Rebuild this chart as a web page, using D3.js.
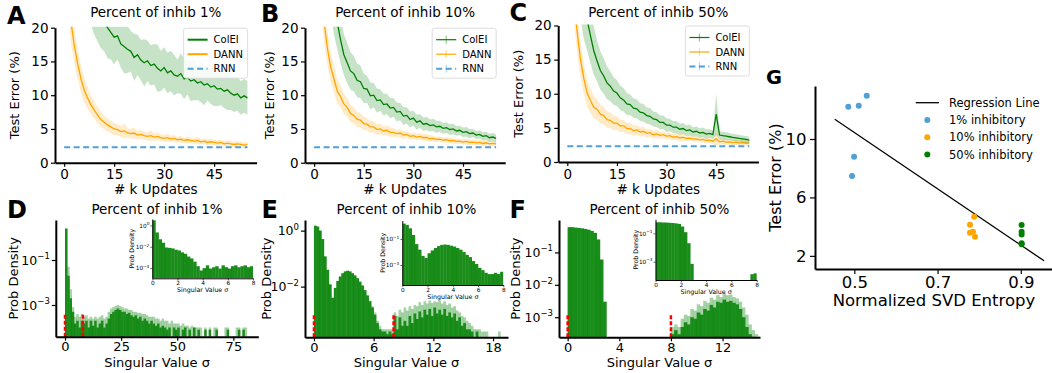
<!DOCTYPE html>
<html>
<head>
<meta charset="utf-8">
<script src="https://cdn.jsdelivr.net/npm/d3@7"></script>
<style>
body{margin:0;background:#fff}
</style>
</head>
<body>
<svg id="fig" width="1052" height="373"></svg>
<script>
// ---- data ----
const kUpdates=d3.range(0,56);           // x positions, one per k updates
const rnnSpan=[0,55];
const rnnError=[2.3,2.3,2.3];

const dann1=[38,28,21,17.5,14.8,12.5,10.8,9.6,8.6,7.8, 7.1,6.4,6.0,5.6,5.3,5.0,4.9,4.6,4.7,4.4, 4.3,4.4,4.1,4.2,4.0,3.9,4.0,3.8,3.9,3.7, 3.6,3.7,3.5,3.6,3.4,3.5,3.3,3.4,3.3,3.2, 3.3,3.1,3.2,3.0,3.1,3.0,2.9,3.0,2.8,2.9, 2.8,2.7,2.8,2.7,2.6,2.7];
const dann1Sd=[4,4,3,2.6,2.2,2.0,1.8,1.6,1.4,1.3, 1.2,1.1,1.0,1.0,0.9,0.9,0.8,0.8,1.1,0.7, 0.7,0.8,0.6,0.7,0.6,0.6,0.8,0.5,0.6,0.5, 0.5,0.6,0.5,0.5,0.4,0.5,0.4,0.5,0.4,0.4, 0.5,0.4,0.4,0.5,0.4,0.4,0.4,0.4,0.4,0.4, 0.5,0.4,0.4,0.4,0.4,0.4];
const colei1=[40,38,36,34,32,30,28,27,25.5,24, 23,22,21,20,19.3,18.6,18.8,17.6,17.2,16.8, 16.5,15.6,16.0,15.2,14.8,15.1,14.4,14.6,14.0,13.6, 14.1,13.3,13.6,13.0,12.8,13.2,12.4,12.6,12.1,12.3, 11.8,12.0,11.5,11.7,11.2,11.4,10.9,11.0,10.6,10.8, 10.3,10.0,10.2,9.6,9.9,9.6];
const colei1Sd=[5,5,5,5,5,5,5,5,5,5, 5,5,4.5,4.5,4,4,3.5,3.5,4,3.5, 3,3.5,3,3,3.5,3,3,3,3.5,3, 3,3,3,3,2.5,3,3,2.5,3,3, 2.5,3,3,2.5,2.5,3,2.5,2.5,2.5,3, 2.5,2.5,2.5,2.5,2.5,2.5];

const dann10=[45,34,26,21,17,14.2,12.4,10.6,9.8,8.7, 8.2,7.3,7.0,6.4,6.3,5.8,5.7,5.3,5.3,4.9, 5.0,4.7,4.8,4.5,4.5,4.3,4.4,4.1,4.2,3.9, 4.0,3.8,3.9,3.7,3.75,3.55,3.6,3.45,3.5,3.35, 3.4,3.25,3.3,3.15,3.2,3.05,3.15,3.0,3.05,2.95, 3.0,2.85,2.95,2.8,2.85,2.8];
const dann10Sd=[4,4,3.5,3,2.5,2.2,2,1.8,1.6,1.5, 1.4,1.3,1.2,1.1,1.1,1.0,0.9,0.9,0.8,0.8, 0.8,0.7,0.7,0.7,0.6,0.6,0.6,0.6,0.5,0.5, 0.5,0.5,0.5,0.5,0.5,0.5,0.4,0.4,0.4,0.4, 0.4,0.4,0.4,0.4,0.4,0.4,0.4,0.4,0.4,0.4, 0.4,0.4,0.4,0.4,0.4,0.4];
const colei10=[60,50,42,36,31,27,23.5,20.8,18.2,16.0, 14.8,13.6,13.2,12.2,12.0,11.0,10.9,9.9,10.0,9.2, 9.3,8.6,8.7,8.1,8.2,7.5,7.6,6.9,7.0,6.4, 6.6,6.0,6.2,5.7,5.8,5.5,5.6,5.3,5.4,5.1, 5.2,4.9,5.0,4.7,4.8,4.5,4.6,4.3,4.4,4.1, 4.2,3.9,4.0,3.7,3.8,3.6];
const colei10Sd=[6,6,6,6,5,5,4.5,4,3.5,3, 3,2.8,2.6,2.5,2.4,2.2,2,2,1.8,1.8, 1.6,1.6,1.5,1.5,1.4,1.4,1.3,1.3,1.2,1.2, 1.1,1.1,1.0,1.0,1.0,0.9,0.9,0.9,0.8,0.8, 0.8,0.8,0.8,0.7,0.7,0.7,0.7,0.7,0.6,0.6, 0.6,0.6,0.6,0.6,0.6,0.6];

const dann50=[45,33,24,19,15,12.2,10.1,9.0,8.0,7.7, 7.0,6.8,6.2,6.1,5.7,5.7,5.3,5.3,4.9,4.9, 4.6,4.7,4.4,4.5,4.2,4.3,4.0,4.1,3.9,4.0, 3.8,3.85,3.65,3.7,3.55,3.6,3.45,3.5,3.35,3.4, 3.25,3.3,3.15,3.2,3.05,3.4,2.95,3.05,2.9,2.95, 2.85,2.9,2.8,2.85,2.75,2.8];
const dann50Sd=[4,4,3.5,3,2.5,2.2,2,1.8,1.6,1.5, 1.4,1.3,1.2,1.1,1.1,1.0,0.9,0.9,0.8,0.8, 0.8,0.7,0.7,0.7,0.6,0.6,0.6,0.6,0.5,0.5, 0.5,0.5,0.5,0.5,0.5,0.5,0.4,0.4,0.4,0.4, 0.4,0.4,0.4,0.4,0.4,1.0,0.4,0.4,0.4,0.4, 0.4,0.4,0.4,0.4,0.4,0.4];
const colei50=[60,48,38,31,26,23,20.8,18.5,16.3,14.8, 13.4,12.6,11.6,11.1,10.4,10.1,9.4,9.1,8.5,8.4, 7.9,7.8,7.3,7.2,6.8,6.7,6.3,6.2,5.8,5.8, 5.4,5.4,5.1,5.1,4.8,4.9,4.6,4.7,4.4,4.5, 4.25,4.35,4.1,4.2,4.0,7.0,3.95,3.85,3.8,3.7, 3.6,3.55,3.45,3.4,3.3,3.2];
const colei50Sd=[6,6,6,6,5,5,4.5,4,3.5,3, 2.8,2.6,2.4,2.2,2,1.9,1.8,1.7,1.6,1.5, 1.4,1.4,1.3,1.3,1.2,1.2,1.1,1.1,1.0,1.0, 1.0,0.9,0.9,0.9,0.8,0.8,0.8,0.8,0.7,0.7, 0.7,0.7,0.7,0.6,0.6,3.0,0.6,0.6,0.6,0.5, 0.5,0.5,0.5,0.5,0.5,0.5];

// singular value spectra (bin start 0)
const dBinWidth=1, eBinWidth=0.25, fBinWidth=0.25, insetBinWidth=0.25;
const dDark=[2.5,0.02,0.002,0.0005,1.5e-4,2e-4,1e-4,2e-4,1.5e-4,2e-4, 1e-4,2e-4,1.2e-4,2e-4,1e-4,1.5e-4,2e-4,1e-4,1.5e-4,2.5e-4, 4e-4,5e-4,6e-4,7e-4,6e-4,5e-4,5e-4,4e-4,4.5e-4,3.5e-4, 3e-4,3.5e-4,2.5e-4,3e-4,2e-4,2.5e-4,2e-4,1.5e-4,2e-4,1.5e-4, 1.2e-4,1.5e-4,1e-4,1.2e-4,1e-4,8e-5,1e-4,0,1e-4,8e-5, 1e-4,0,8e-5,1e-4,0,8e-5,0,1e-4,0,8e-5, 0,0,8e-5,0,8e-5,0,0,8e-5,0,0, 0,0,8e-5,0,0,0,0,8e-5,0,8e-5, 0,0];
const dLight=[2.5,0.05,0.005,0.0008,3e-4,4e-4,3e-4,4e-4,3e-4,3.5e-4, 2.5e-4,3e-4,2.5e-4,3e-4,2.5e-4,3e-4,3.5e-4,2.5e-4,3e-4,5e-4, 7e-4,8e-4,9e-4,1e-3,9e-4,8e-4,7e-4,7e-4,6e-4,6e-4, 5e-4,5e-4,4.5e-4,4.5e-4,4e-4,4e-4,3.5e-4,3e-4,3e-4,3e-4, 2.5e-4,2.5e-4,2e-4,2.5e-4,2e-4,2e-4,1.5e-4,2e-4,1.5e-4,1.5e-4, 1.5e-4,1.2e-4,1.5e-4,1.2e-4,1.2e-4,1e-4,1.2e-4,1e-4,1e-4,1e-4, 1e-4,0,1e-4,0,1e-4,0,1e-4,1e-4,0,0, 0,1e-4,1e-4,0,0,0,1e-4,1e-4,0,1e-4, 1e-4,0];
const eDark=[1.5,1.4,1.0,0.5,0.12,0.04,0.012,0.004, 0.009,0.016,0.023,0.03,0.035,0.037,0.035,0.03, 0.025,0.02,0.015,0.011,0.0075,0.0048,0.003,0.0018, 0.001,0.0005,0.0003,0.00025,0.00025,0.0002,0.00025,0.0002, 0.0009,0.0003,0.0008,0.0004,0.0006,0.0004,0.0009,0.0005, 0.0011,0.0007,0.0013,0.0008,0.0015,0.001,0.0016,0.0009, 0.0018,0.0011,0.0015,0.001,0.0016,0.0009,0.0012,0.0008, 0.0011,0.0006,0.0008,0.0004,0.0005,0.0003,0.0003,0.00025, 0,0.00025,0,0,0,0,0,0, 0,0,0,0];
const eLight=[1.5,1.4,1.0,0.5,0.12,0.04,0.012,0.004, 0.009,0.016,0.023,0.03,0.035,0.037,0.035,0.03, 0.025,0.02,0.015,0.011,0.0075,0.005,0.0032,0.002, 0.0012,0.0006,0.0004,0.0003,0.0003,0.0003,0.0003,0.0003, 0.0012,0.0009,0.0015,0.0012,0.0018,0.0014,0.002,0.0016, 0.0022,0.002,0.0028,0.0022,0.003,0.0025,0.0032,0.0026, 0.003,0.0028,0.0032,0.0025,0.003,0.0022,0.0025,0.0018, 0.002,0.0014,0.0012,0.0009,0.0008,0.0006,0.0005,0.0004, 0.0003,0.0003,0.0003,0.00025,0.00025,0.00025,0,0, 0,0,0.00025,0];
const fDark=[0.6,0.6,0.58,0.57,0.55,0.53,0.5,0.46,0.4,0.25,0.06,0.003, 0,0,0,0,0,0,0,0,0,0, 0,0,0,0,0,0,0,0,0,0, 0.0003,0.0004,0.0003,0.0005,0.0007,0.0006,0.001,0.0009, 0.0014,0.0012,0.0018,0.0016,0.0024,0.002,0.003,0.0028, 0.0035,0.003,0.0032,0.0028,0.0025,0.0018,0.001,0.0005, 0.0003,0.00025,0,0];
const fLight=[0.6,0.6,0.58,0.57,0.55,0.53,0.5,0.46,0.4,0.25,0.06,0.003, 0,0,0,0,0,0,0,0,0,0, 0,0,0,0,0,0,0,0,0,0, 0.0005,0.0006,0.0005,0.0009,0.0012,0.0011,0.0018,0.0016, 0.0025,0.0022,0.0032,0.0028,0.004,0.0035,0.0048,0.0042, 0.0055,0.0048,0.005,0.0042,0.0038,0.003,0.002,0.0012, 0.0006,0.0004,0.0003,0.00025];
const dInset=[3,0.22,0.05,0.024,0.0085,0.0078,0.007,0.0053,0.0045,0.003,0.0022,0.0012,0.0008,0.0004,0.00015,0.00006, 0.0001,0.00018,0.00009,0.00012,0.00015,0.00009,0.00018,0.00012,0.00009,0.00015,0.00018,0.00012,0.00015,0.00018,0.00012,0.00015];
const eInset=[1.5,1.2,0.65,0.2,0.04,0.015,0.005,0.0035,0.008,0.013,0.02,0.028,0.035,0.037,0.035,0.03, 0.026,0.02,0.015,0.01,0.006,0.004,0.002,0.0012,0.0006,0.0004,0.00025,0.0002,0.0002,0.00025,0.0002,0.0003];
const fInset=[0.6,0.6,0.58,0.57,0.55,0.53,0.5,0.46,0.3,0.12,0.02,0.0007, 0,0,0,0,0,0,0,0,0,0,0,0,0,0,0,0,0,0, 0.00013,0.00015];
const spectrumMarks=[0,8];

// entropy vs test error
const entropy1=[0.4855,0.5106,0.5298,0.4993,0.4945], error1=[12.21,12.28,12.97,8.79,7.47];
const entropy10=[0.788,0.778,0.778,0.785,0.790], error10=[4.68,4.13,3.58,3.65,3.31];
const entropy50=[0.902,0.902,0.902,0.902,0.902], error50=[4.11,3.65,3.47,2.86,2.79];
const regX=[0.453,0.956], regY=[11.35,1.66];

// ---- drawing ----
const green="#008000", orange="#ffa500", blue="#4f9fd8";
const FONT="DejaVu Sans, Verdana, sans-serif";
const svg=d3.select("#fig").attr("font-family",FONT);

function clipRect(id,l,t,r,b){
  svg.append("clipPath").attr("id",id).append("rect")
    .attr("x",l).attr("y",t).attr("width",r-l).attr("height",b-t);
  return `url(#${id})`;
}
function styleAxis(g,size,lw){
  g.attr("font-family",FONT).attr("font-size",size);
  g.select(".domain").attr("stroke-width",lw);
  g.selectAll(".tick line").attr("stroke-width",lw*0.6);
}
function expText(d){
  const e=Math.round(Math.log10(d));
  return e<0 ? "\u2212"+(-e) : String(e);
}
function sciLabels(g,small,lift){
  g.selectAll(".tick text").each(function(d){
    const t=d3.select(this).text(null);
    t.append("tspan").text("10");
    t.append("tspan").attr("dy",-lift).attr("font-size",small).text(expText(d));
  });
}
function text(x,y,str,size,opts={}){
  const t=svg.append("text").attr("x",x).attr("y",y).attr("font-size",size)
    .attr("text-anchor",opts.anchor||"middle").text(str);
  if(opts.bold) t.attr("font-weight","bold");
  if(opts.rotate) t.attr("transform",`rotate(-90,${x},${y})`).attr("dy","0.35em");
  return t;
}

const curvePanels=[
  {letter:"A",lx:7,ly:23.5,title:"Percent of inhib 1%",left:55,right:256.6,top:27.7,bottom:162.7,ylabX:14,
   series:[{mean:dann1,sd:dann1Sd,color:orange},{mean:colei1,sd:colei1Sd,color:green}],rnn:rnnError[0],errTick:false},
  {letter:"B",lx:261,ly:21.7,title:"Percent of inhib 10%",left:305,right:505.2,top:27.7,bottom:162.7,ylabX:269,
   series:[{mean:dann10,sd:dann10Sd,color:orange},{mean:colei10,sd:colei10Sd,color:green}],rnn:rnnError[1],errTick:true},
  {letter:"C",lx:509.5,ly:20.7,title:"Percent of inhib 50%",left:558.2,right:758.4,top:25.5,bottom:162,ylabX:518.5,
   series:[{mean:dann50,sd:dann50Sd,color:orange},{mean:colei50,sd:colei50Sd,color:green}],rnn:rnnError[2],errTick:true}
];

function drawCurvePanel(p){
  const x=d3.scaleLinear().domain([-2.75,57.75]).range([p.left,p.right]);
  const y=d3.scaleLinear().domain([0,20]).range([p.bottom,p.top]);
  const g=svg.append("g").attr("clip-path",clipRect("clip"+p.letter,p.left,p.top-1,p.right,p.bottom));
  p.series.forEach(s=>{
    const band=d3.area().x((d,i)=>x(kUpdates[i]))
      .y0((d,i)=>y(Math.max(0,d-s.sd[i]))).y1((d,i)=>y(d+s.sd[i]));
    g.append("path").datum(s.mean).attr("d",band).attr("fill",s.color).attr("fill-opacity",0.22);
    g.append("path").datum(s.mean)
      .attr("d",d3.line().x((d,i)=>x(kUpdates[i])).y(d=>y(d)))
      .attr("fill","none").attr("stroke",s.color).attr("stroke-width",1.3);
  });
  g.append("path").datum(rnnSpan)
    .attr("d",d3.line().x(d=>x(d)).y(()=>y(p.rnn)))
    .attr("stroke",blue).attr("stroke-width",2).attr("stroke-dasharray","6,3.5").attr("fill","none");

  const ax=svg.append("g").attr("transform",`translate(0,${p.bottom})`)
    .call(d3.axisBottom(x).tickValues([0,15,30,45]).tickSize(4).tickPadding(3).tickSizeOuter(0));
  styleAxis(ax,13.5,2);
  const ay=svg.append("g").attr("transform",`translate(${p.left},0)`)
    .call(d3.axisLeft(y).tickValues([0,5,10,15,20]).tickSize(4).tickPadding(2.5).tickSizeOuter(0));
  styleAxis(ay,13.5,2);

  text((p.left+p.right)/2,17.3,p.title,13.5);
  text((p.left+p.right)/2,194,"# k Updates",13.5);
  text(p.ylabX,(p.top+p.bottom)/2,"Test Error (%)",13,{rotate:true});
  text(p.lx,p.ly,p.letter,24,{bold:true,anchor:"start"});

  // legend
  const bx=p.right-9-64, by=p.top+0.5;
  svg.append("rect").attr("x",bx).attr("y",by).attr("width",64).attr("height",50).attr("rx",2.5)
    .attr("fill","#fff").attr("fill-opacity",0.85).attr("stroke","#d4d4d4").attr("stroke-width",0.8);
  const entries=[{label:"ColEI",color:green},{label:"DANN",color:orange},{label:"RNN",color:blue,dash:true}];
  entries.forEach((e,i)=>{
    const ly=by+11.5+i*14.5;
    const ln=svg.append("line").attr("x1",bx+4).attr("x2",bx+24).attr("y1",ly).attr("y2",ly)
      .attr("stroke",e.color).attr("stroke-width",e.dash?2:(p.errTick?1.2:2));
    if(e.dash) ln.attr("stroke-dasharray","6,3.5");
    if(p.errTick) svg.append("line").attr("x1",bx+14).attr("x2",bx+14).attr("y1",ly-4).attr("y2",ly+4)
      .attr("stroke",e.color).attr("stroke-opacity",0.5).attr("stroke-width",1);
    text(bx+30,ly,e.label,10,{anchor:"start"}).attr("dy","0.35em");
  });
}
curvePanels.forEach(drawCurvePanel);

const histPanels=[
  {letter:"D",lx:7,ly:218,title:"Percent of inhib 1%",left:55.8,right:258.3,top:220,bottom:336.7,xDomain:[-4.1,86.1],
   yDomain:[3.9e-5,6.0],xTicks:[0,25,50,75],yTicks:[1e-1,1e-3],dark:dDark,light:dLight,bin:dBinWidth,ylabX:13,
   inset:{left:152.3,right:253,top:219,bottom:278.3,yDomain:[1.1e-5,4.0],yTicks:[1,1e-2,1e-4],data:dInset}},
  {letter:"E",lx:261.5,ly:218,title:"Percent of inhib 10%",left:305,right:508,top:220,bottom:337.3,xDomain:[-0.9,19.5],
   yDomain:[1.55e-4,2.4],xTicks:[0,6,12,18],yTicks:[1,1e-2],dark:eDark,light:eLight,bin:eBinWidth,ylabX:266,
   inset:{left:402.3,right:503.3,top:220.5,bottom:285,yDomain:[2.9e-5,2.6],yTicks:[1e-1,1e-3],data:eInset}},
  {letter:"F",lx:509.5,ly:218,title:"Percent of inhib 50%",left:559,right:760,top:220,bottom:337.3,xDomain:[-0.67,14.9],
   yDomain:[2.4e-4,1.0],xTicks:[0,4,8,12],yTicks:[1e-1,1e-2,1e-3],dark:fDark,light:fLight,bin:fBinWidth,ylabX:515.5,
   inset:{left:655.5,right:756.7,top:219.3,bottom:280,yDomain:[5.1e-5,0.97],yTicks:[1e-1,1e-3],data:fInset}}
];

function bars(g,x,y,values,bin,opacity,bottom){
  g.selectAll(null).data(values.map((v,i)=>({v,s:i*bin})).filter(d=>d.v>0)).join("rect")
    .attr("x",d=>x(d.s)).attr("width",d=>x(d.s+bin)-x(d.s)+0.25)
    .attr("y",d=>y(d.v)).attr("height",d=>bottom-y(d.v))
    .attr("fill",green).attr("fill-opacity",opacity);
}

function drawHistPanel(p,k){
  const x=d3.scaleLinear().domain(p.xDomain).range([p.left,p.right]);
  const y=d3.scaleLog().domain(p.yDomain).range([p.bottom,p.top]);
  const g=svg.append("g").attr("clip-path",clipRect("hclip"+k,p.left,p.top,p.right,p.bottom));
  bars(g,x,y,p.light,p.bin,0.35,p.bottom);
  bars(g,x,y,p.dark,p.bin,0.85,p.bottom);
  const h=(p.bottom-p.top)*0.2;
  spectrumMarks.forEach(m=>{
    svg.append("line").attr("x1",x(m)).attr("x2",x(m)).attr("y1",p.bottom).attr("y2",p.bottom-h)
      .attr("stroke","red").attr("stroke-width",2.5).attr("stroke-dasharray","4,2");
  });
  const ax=svg.append("g").attr("transform",`translate(0,${p.bottom})`)
    .call(d3.axisBottom(x).tickValues(p.xTicks).tickSize(4).tickPadding(1.5).tickSizeOuter(0));
  styleAxis(ax,13,2);
  const ay=svg.append("g").attr("transform",`translate(${p.left},0)`)
    .call(d3.axisLeft(y).tickValues(p.yTicks).tickSize(4).tickPadding(2).tickSizeOuter(0));
  styleAxis(ay,12.5,2);
  sciLabels(ay,8.5,5.5);

  text((p.left+p.right)/2,213.5,p.title,13.5);
  text((p.left+p.right)/2,367,"Singular Value \u03c3",13);
  text(p.ylabX,(p.top+p.bottom)/2,"Prob Density",13,{rotate:true});
  text(p.lx,p.ly,p.letter,24,{bold:true,anchor:"start"});

  // inset
  const q=p.inset;
  const xi=d3.scaleLinear().domain([0,8]).range([q.left,q.right]);
  const yi=d3.scaleLog().domain(q.yDomain).range([q.bottom,q.top]);
  svg.append("rect").attr("x",q.left).attr("y",q.top).attr("width",q.right-q.left).attr("height",q.bottom-q.top).attr("fill","#fff");
  const gi=svg.append("g").attr("clip-path",clipRect("iclip"+k,q.left,q.top,q.right,q.bottom));
  bars(gi,xi,yi,q.data,insetBinWidth,0.9,q.bottom);
  const ix=svg.append("g").attr("transform",`translate(0,${q.bottom})`)
    .call(d3.axisBottom(xi).tickValues([0,2,4,6,8]).tickSize(2).tickPadding(1).tickSizeOuter(0));
  styleAxis(ix,5.8,1);
  const iy=svg.append("g").attr("transform",`translate(${q.left},0)`)
    .call(d3.axisLeft(yi).tickValues(q.yTicks).tickSize(2).tickPadding(1).tickSizeOuter(0));
  styleAxis(iy,5.8,1);
  sciLabels(iy,4.2,2.6);
  svg.append("text").attr("x",(q.left+q.right)/2).attr("y",q.bottom+14).attr("font-size",6.3)
    .attr("text-anchor","middle").text("Singular Value \u03c3");
  text(q.left-20,(q.top+q.bottom)/2,"Prob Density",6.3,{rotate:true});
}
histPanels.forEach(drawHistPanel);

// ---- panel G ----
(function(){
  const left=815,right=1052,top=86,bottom=269;
  const x=d3.scaleLinear().domain([0.4055,0.975]).range([left,right]);
  const y=d3.scaleLinear().domain([1.1,13.63]).range([bottom,top]);
  svg.append("line").attr("x1",x(regX[0])).attr("y1",y(regY[0])).attr("x2",x(regX[1])).attr("y2",y(regY[1]))
    .attr("stroke","#000").attr("stroke-width",1.3);
  const groups=[
    {xs:entropy1,ys:error1,color:blue,label:"1% inhibitory"},
    {xs:entropy10,ys:error10,color:orange,label:"10% inhibitory"},
    {xs:entropy50,ys:error50,color:green,label:"50% inhibitory"}
  ];
  groups.forEach(gr=>{
    svg.append("g").selectAll("circle").data(gr.xs).join("circle")
      .attr("cx",d=>x(d)).attr("cy",(d,i)=>y(gr.ys[i])).attr("r",3).attr("fill",gr.color);
  });
  const ax=svg.append("g").attr("transform",`translate(0,${bottom})`)
    .call(d3.axisBottom(x).tickValues([0.5,0.7,0.9]).tickSize(5).tickPadding(2.5).tickSizeOuter(0).tickFormat(d3.format(".1f")));
  styleAxis(ax,16.5,2);
  const ay=svg.append("g").attr("transform",`translate(${left},0)`)
    .call(d3.axisLeft(y).tickValues([2,6,10]).tickSize(5).tickPadding(3.5).tickSizeOuter(0));
  styleAxis(ay,16.5,2);
  text(934,306,"Normalized SVD Entropy",16.5);
  text(775.5,177.5,"Test Error (%)",16,{rotate:true});
  text(766,84,"G",19.5,{bold:true,anchor:"start"});
  // legend
  svg.append("line").attr("x1",915.7).attr("x2",939).attr("y1",102.7).attr("y2",102.7).attr("stroke","#000").attr("stroke-width",1.3);
  text(949,102.7,"Regression Line",11.5,{anchor:"start"}).attr("dy","0.35em");
  groups.forEach((gr,i)=>{
    const ly=120+i*17.3;
    svg.append("circle").attr("cx",927.3).attr("cy",ly).attr("r",3).attr("fill",gr.color);
    text(949,ly,gr.label,11.5,{anchor:"start"}).attr("dy","0.35em");
  });
})();
</script>
</body>
</html>
